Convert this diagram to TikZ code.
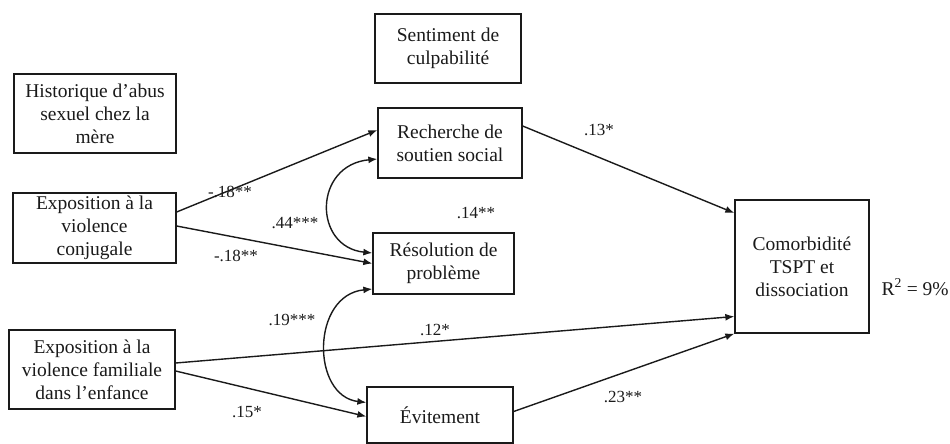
\documentclass[tikz,border=0pt]{standalone}
\usepackage{fontspec}
\setmainfont{Liberation Serif}
\usepackage{tikz}
\usetikzlibrary{arrows.meta, positioning, calc}
\definecolor{ink}{HTML}{1A1A1A}

\begin{document}
\begin{tikzpicture}[
    x=1pt, y=-1pt,
    var/.style={draw=ink, line width=1.3pt, align=center, inner sep=2pt,
                font=\fontsize{19.5}{23}\selectfont, text=ink},
    coef/.style={font=\fontsize{17}{19}\selectfont, text=ink, inner sep=0pt},
    link/.style={draw=ink, line width=1.4pt, -{Latex[length=9pt,width=7pt]}},
    covar/.style={draw=ink, line width=1.4pt,
                  {Latex[length=9pt,width=7pt]}-{Latex[length=9pt,width=7pt]}}
  ]
  \useasboundingbox (0,0) rectangle (950,444);

  \node[var, minimum width=146pt, minimum height=69pt] (culpa) at (448, 48.5)
    {Sentiment de\\culpabilité};
  \node[var, minimum width=162pt, minimum height=79pt] (abus) at (95, 113.5)
    {Historique d’abus\\sexuel chez la\\mère};
  \node[var, minimum width=144pt, minimum height=70pt] (soutien) at (450, 143)
    {Recherche de\\soutien social};
  \node[var, minimum width=163pt, minimum height=70pt] (conj) at (94.5, 228)
    {Exposition à la\\violence\\conjugale};
  \node[var, minimum width=141pt, minimum height=61pt] (resol) at (443.5, 263.5)
    {Résolution de\\problème};
  \node[var, minimum width=166pt, minimum height=79pt] (famil) at (92, 369.5)
    {Exposition à la\\violence familiale\\dans l’enfance};
  \node[var, minimum width=146pt, minimum height=56pt] (evit) at (440, 415)
    {Évitement};
  \node[var, minimum width=134pt, minimum height=133pt] (comor) at (802, 266.5)
    {Comorbidité\\TSPT et\\dissociation};
  \node[var, draw=none, anchor=west, inner sep=0pt] (rsq) at (881, 287)
    {R\textsuperscript{2} = 9\%};

  \draw[link] ([yshift=16pt]conj.east) -- ([yshift=13pt]soutien.west);
  \draw[link] ([yshift=2pt]conj.east) -- (resol.west);
  \draw[link] ([yshift=6.5pt]famil.east) -- ([yshift=-50pt]comor.west);
  \draw[link] ([yshift=-1.5pt]famil.east) -- ([yshift=-1.5pt]evit.west);
  \draw[link] ([yshift=3.5pt]evit.east) -- (comor.south west);
  \draw[link] ([yshift=17pt]soutien.east) -- ([yshift=53.5pt]comor.west);

  \draw[covar] ([yshift=-16pt]soutien.west) .. controls (313,165) and (313,247)
    .. ([yshift=10.5pt]resol.west);
  \draw[covar] ([yshift=-25.5pt]resol.west) .. controls (311,295) and (311,396)
    .. ([yshift=12.5pt]evit.west);

  \node[coef] (c1) at (230, 192) {-.18**};
  \node[coef] (c2) at (295, 223) {.44***};
  \node[coef] (c3) at (236, 256) {-.18**};
  \node[coef] (c4) at (476, 213) {.14**};
  \node[coef] (c5) at (599, 130) {.13*};
  \node[coef] (c6) at (292, 320) {.19***};
  \node[coef] (c7) at (435, 330) {.12*};
  \node[coef] (c8) at (247, 412) {.15*};
  \node[coef] (c9) at (623, 397) {.23**};
\end{tikzpicture}
\end{document}
